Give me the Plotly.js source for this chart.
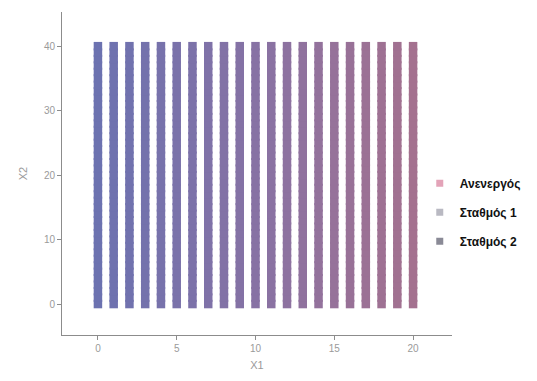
<!DOCTYPE html>
<html><head><meta charset="utf-8">
<script src="https://cdn.plot.ly/plotly-3.0.1.min.js"></script>
<style>html,body{margin:0;padding:0;background:#fff}#chart{width:537px;height:381px}</style>
</head><body><div id="chart"></div>
<script>
const xValues = [0,1,2,3,4,5,6,7,8,9,10,11,12,13,14,15,16,17,18,19,20];
const yValues = [0,1,2,3,4,5,6,7,8,9,10,11,12,13,14,15,16,17,18,19,20,21,22,23,24,25,26,27,28,29,30,31,32,33,34,35,36,37,38,39,40];
const legendNames = ['Ανενεργός','Σταθμός 1','Σταθμός 2'];
const legendColors = ['#e3a3b8','#b9b9c2','#8a8a96'];
const xTicks = [0,5,10,15,20];
const yTicks = [0,10,20,30,40];

const gx = [], gy = [];
for (const x of xValues) for (const y of yValues) { gx.push(x); gy.push(y); }

const traces = [{
  type:'scatter', mode:'markers', x:gx, y:gy, showlegend:false, hoverinfo:'skip',
  marker:{symbol:'square', size:8.5, color:gx,
    colorscale:[[0,'#6c72b0'],[0.5,'#8772a4'],[1,'#a4718f']], cmin:0, cmax:20, showscale:false,
    line:{width:0}}
}];
legendNames.forEach((n,i)=>traces.push({
  type:'scatter', mode:'markers', x:[null], y:[null], name:n, legendgroup:'g'+i,
  marker:{symbol:'square', size:7, color:legendColors[i]}
}));

const axisCommon = {showgrid:false, zeroline:false, showline:true, linecolor:'#8c8c8c', linewidth:1,
  ticks:'outside', ticklen:4, tickcolor:'#8c8c8c', tickfont:{family:'Liberation Sans, Arial', size:10, color:'#9a9a9a'}};

Plotly.newPlot('chart', traces, {
  width:537, height:381,
  margin:{l:62, r:84, t:12, b:46},
  paper_bgcolor:'#fff', plot_bgcolor:'#fff',
  xaxis:Object.assign({}, axisCommon, {range:[-2.28,22.47], tickvals:xTicks,
    title:{text:'X1', font:{family:'Liberation Sans, Arial', size:11, color:'#9a9a9a'}, standoff:8}}),
  yaxis:Object.assign({}, axisCommon, {range:[-4.8,45.3], tickvals:yTicks,
    title:{text:'X2', font:{family:'Liberation Sans, Arial', size:11, color:'#9a9a9a'}, standoff:14}}),
  legend:{x:0.915, y:0.38, xanchor:'left', yanchor:'middle', bgcolor:'rgba(0,0,0,0)',
    tracegroupgap:10, font:{family:'Liberation Sans, Arial', size:12, color:'#111', weight:'bold'}},
  showlegend:true
}, {displayModeBar:false, staticPlot:true});
</script></body></html>
